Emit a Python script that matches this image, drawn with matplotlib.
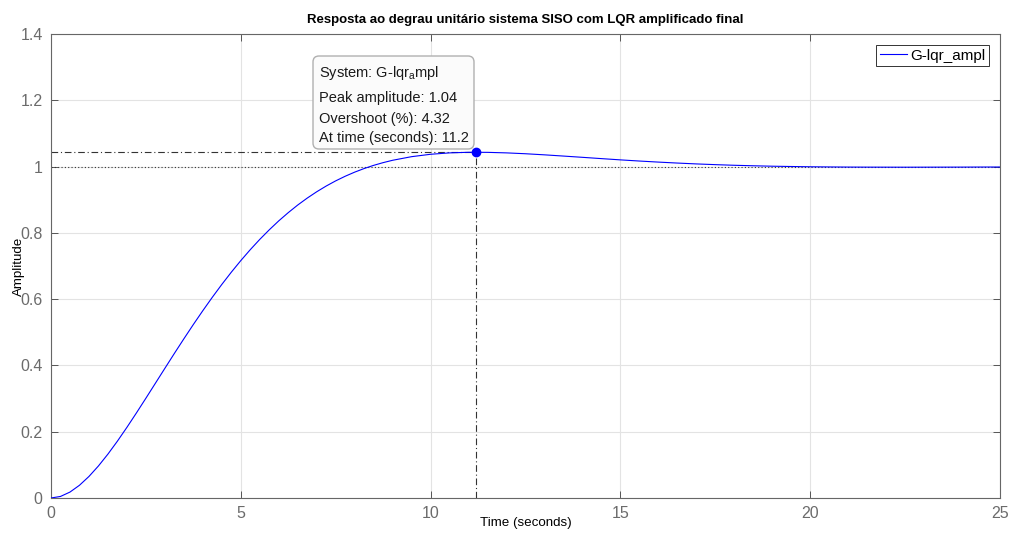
import matplotlib
matplotlib.use('Agg')
import matplotlib.pyplot as plt
from matplotlib.patches import FancyBboxPatch
import numpy as np

plt.rcParams['font.family'] = ['Liberation Sans', 'DejaVu Sans']
plt.rcParams['mathtext.fontset'] = 'custom'
plt.rcParams['mathtext.rm'] = 'Liberation Sans'
plt.rcParams['mathtext.it'] = 'Liberation Sans'

# step response samples (time in s, amplitude)
t = [0, 0.25, 0.5, 0.75, 1, 1.25, 1.5, 1.75, 2, 2.25, 2.5, 2.75, 3, 3.25,
     3.5, 3.75, 4, 4.25, 4.5, 4.75, 5, 5.25, 5.5, 5.75, 6, 6.25, 6.5, 6.75,
     7, 7.25, 7.5, 7.75, 8, 8.25, 8.5, 8.75, 9, 9.5, 10, 10.5, 11, 11.5,
     12, 12.5, 13, 13.5, 14, 14.5, 15, 15.5, 16, 16.5, 17, 17.5, 18, 18.5,
     19, 19.5, 20, 20.5, 21, 21.5, 22, 22.5, 23, 23.5, 24, 24.5, 25]
y = [0, 0.0047, 0.0179, 0.0384, 0.0650, 0.0967, 0.1325, 0.1716, 0.2132,
     0.2566, 0.3011, 0.3462, 0.3913, 0.4362, 0.4803, 0.5235, 0.5653,
     0.6057, 0.6444, 0.6813, 0.7163, 0.7493, 0.7803, 0.8092, 0.8362,
     0.8610, 0.8840, 0.9049, 0.9240, 0.9413, 0.9569, 0.9708, 0.9832,
     0.9941, 1.0037, 1.0119, 1.0190, 1.0299, 1.0371, 1.0413, 1.0431,
     1.0429, 1.0413, 1.0387, 1.0354, 1.0317, 1.0279, 1.0240, 1.0202,
     1.0167, 1.0135, 1.0106, 1.0080, 1.0058, 1.0039, 1.0024, 1.0011,
     1.0002, 0.9994, 0.9989, 0.9985, 0.9983, 0.9982, 0.9981, 0.9982,
     0.9983, 0.9984, 0.9986, 0.9987]

peak_time = 11.2
peak_amp = 1.0432
overshoot = 4.32
final_value = 1.0

fig = plt.figure(figsize=(10.11, 5.34), dpi=100)
ax = fig.add_axes([51 / 1011, 36 / 534, 949 / 1011, 464 / 534])

ax.plot(t, y, color='#0000ff', lw=0.8, label='G-lqr_ampl', zorder=3)

# steady state and peak markers
ax.axhline(final_value, color='#333333', lw=0.8, ls=(0, (1, 2)), zorder=2)
ax.plot([0, peak_time], [peak_amp, peak_amp], color='#333333', lw=0.8,
        ls=(0, (6, 2.5, 1, 2.5)), zorder=2)
ax.plot([peak_time, peak_time], [0, peak_amp], color='#333333', lw=0.8,
        ls=(0, (6, 2.5, 1, 2.5)), zorder=2)
ax.plot([peak_time], [peak_amp], 'o', color='#0000ff', ms=6, zorder=4)

ax.set_xlim(0, 25)
ax.set_ylim(0, 1.4)
ax.set_xticks(np.arange(0, 26, 5))
ax.set_yticks(np.arange(0, 1.41, 0.2))
ax.set_yticklabels(['0', '0.2', '0.4', '0.6', '0.8', '1', '1.2', '1.4'])
ax.grid(True, color='#e3e3e3', lw=0.8)
ax.set_axisbelow(True)
ax.tick_params(direction='in', length=5, width=0.7, color='#555555',
               labelcolor='#6b6b6b', labelsize=11.5, top=True, right=True, pad=6)
for s in ax.spines.values():
    s.set_color('#666666')
    s.set_linewidth(0.8)

ax.set_title('Resposta ao degrau unitário sistema SISO com LQR amplificado final',
             fontsize=9.5, fontweight='bold', pad=8)
ax.set_xlabel('Time (seconds)', fontsize=9.6)
ax.set_ylabel('Amplitude', fontsize=9.6)
ax.xaxis.set_label_coords(0.5, -0.04)
ax.yaxis.set_label_coords(-0.027, 0.5)

leg = ax.legend(loc='upper right', fontsize=11, fancybox=False,
                edgecolor='#333333', framealpha=1, handlelength=1.8,
                borderaxespad=0.7, borderpad=0.25, handletextpad=0.2)
leg.get_frame().set_linewidth(0.7)

# data tip box
box = FancyBboxPatch((3.13, 3.85), 1.61, 0.93,
                     boxstyle='round,pad=0,rounding_size=0.06',
                     transform=fig.dpi_scale_trans, facecolor='#fbfbfb',
                     edgecolor='#b0b0b0', lw=1.0, zorder=5)
fig.patches.append(box)
tip = ['System: G-lqr$_{\\mathrm{a}}$mpl',
       f'Peak amplitude: {peak_amp:.2f}',
       f'Overshoot (%): {overshoot:.2f}',
       f'At time (seconds): {peak_time:.1f}']
for line, ypx in zip(tip, [73, 98, 119, 138]):
    fig.text(319 / 1011, 1 - ypx / 534, line, fontsize=10.5, va='center',
             ha='left', color='#1a1a1a', zorder=6)

fig.savefig('out.png', dpi=100)
